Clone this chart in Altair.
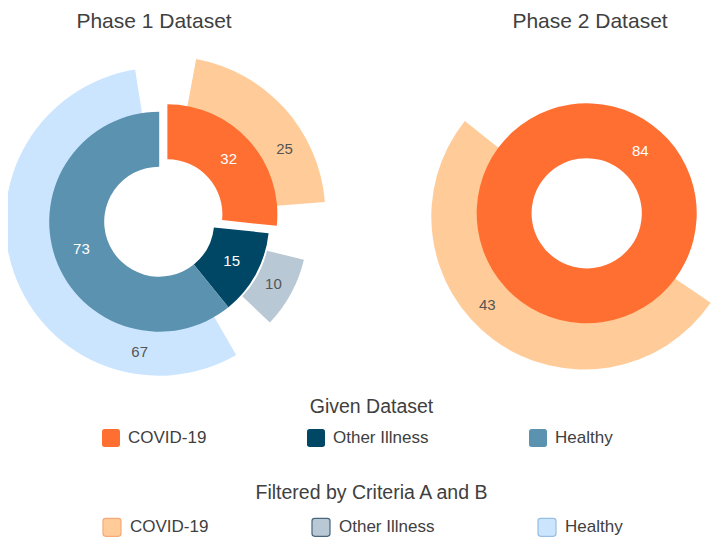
import math
import altair as alt
import pandas as pd

# ---------------- data ----------------
panels = ["Phase 1 Dataset", "Phase 2 Dataset"]
categories = ["COVID-19", "Other Illness", "Healthy"]
given_phase1 = [32, 15, 73]
filtered_phase1 = [25, 10, 67]
given_phase2 = [84]
filtered_phase2 = [43]
legend_titles = ["Given Dataset", "Filtered by Criteria A and B"]

# ---------------- styles / layout ----------------
given_colors = ["#FF6F31", "#004766", "#5A92AF"]
filtered_colors = ["#FFCC99", "#B9C8D5", "#CCE5FF"]
filtered_strokes = ["#F7A877", "#48667C", "#97BEE3"]
FONT = "Liberation Sans"
TEXT_COLOR = "#404040"

center = {"Phase 1 Dataset": (151.2, 213.7), "Phase 2 Dataset": (578.7, 205.3)}
title_x = {"Phase 1 Dataset": 146, "Phase 2 Dataset": 582}
start_turn = {"Phase 1 Dataset": 0.0, "Phase 2 Dataset": 36.5 / 360}
explode_inner = {("Phase 1 Dataset", "COVID-19"): 11}
explode_outer = {("Phase 1 Dataset", "COVID-19"): 11,
                 ("Phase 1 Dataset", "Other Illness"): 12,
                 ("Phase 2 Dataset", "COVID-19"): 4}
outer_radius = {("Phase 1 Dataset", "COVID-19"): 158,
                ("Phase 1 Dataset", "Other Illness"): 138,
                ("Phase 1 Dataset", "Healthy"): 154,
                ("Phase 2 Dataset", "COVID-19"): 153}
# angular nudges of value labels (in turns), to sit where the reference puts them
label_nudge = {("outer", "Phase 1 Dataset", "COVID-19"): 13 / 360,
               ("outer", "Phase 1 Dataset", "Healthy"): -62 / 360,
               ("outer", "Phase 2 Dataset", "COVID-19"): 11 / 360,
               ("inner", "Phase 2 Dataset", "COVID-19"): 184 / 360}
label_radius_outer = {"Other Illness": 118}
R_HOLE, R_RING, R_OUTER_IN = 55, 110, 100
legend_y = {"Given Dataset": 421, "Filtered by Criteria A and B": 509}
legend_title_y = {"Given Dataset": 404.7, "Filtered by Criteria A and B": 491}


def polar(px, py, r, turn):
    return px + r * math.sin(2 * math.pi * turn), py - r * math.cos(2 * math.pi * turn)


# ---------------- build tables ----------------
inner_rows, outer_rows = [], []
for panel, given, filtered in [(panels[0], given_phase1, filtered_phase1),
                               (panels[1], given_phase2, filtered_phase2)]:
    total = sum(given)
    cum = 0
    cx, cy = center[panel]
    for cat, g, f in zip(categories, given, filtered):
        t0 = start_turn[panel] + cum / total
        t1 = t0 + g / total
        cum += g
        mid = (t0 + t1) / 2
        px, py = polar(cx, cy, explode_inner.get((panel, cat), 0), mid)
        lx, ly = polar(px, py, (R_HOLE + R_RING) / 2,
                       mid + label_nudge.get(("inner", panel, cat), 0))
        inner_rows.append(dict(panel=panel, category=cat, value=g, t0=t0, t1=t1,
                               px=px, py=py, lx=lx, ly=ly))
        half = f / total / 2
        ox, oy = polar(cx, cy, explode_outer.get((panel, cat), 0), mid)
        ro = outer_radius[(panel, cat)]
        olx, oly = polar(ox, oy, label_radius_outer.get(cat, (R_RING + ro) / 2),
                         mid + label_nudge.get(("outer", panel, cat), 0))
        outer_rows.append(dict(panel=panel, category=cat, value=f,
                               t0=mid - half, t1=mid + half,
                               px=ox, py=oy, r_out=ro, r_in=R_OUTER_IN,
                               lx=olx, ly=oly))

inner_df = pd.DataFrame(inner_rows)
outer_df = pd.DataFrame(outer_rows)
title_df = pd.DataFrame({"title": panels, "tx": [title_x[p] for p in panels]})
ltitle_df = pd.DataFrame({"title": legend_titles, "ty": [legend_title_y[t] for t in legend_titles]})

theta_scale = alt.Scale(domain=[0, 1], range=[0, 2 * math.pi])
ROUNDED = ("M -1 -0.7 Q -1 -1 -0.7 -1 L 0.7 -1 Q 1 -1 1 -0.7 L 1 0.7 "
           "Q 1 1 0.7 1 L -0.7 1 Q -1 1 -1 0.7 Z")


def make_legend(title, stroke_w):
    return alt.Legend(title=None, orient="none", legendX=94, legendY=legend_y[title],
                      direction="horizontal", columns=3, columnPadding=100,
                      symbolType=ROUNDED, symbolSize=324, symbolStrokeWidth=stroke_w,
                      labelFont=FONT, labelFontSize=17, labelColor=TEXT_COLOR,
                      labelOffset=8, labelLimit=300)


outer = alt.Chart(outer_df).mark_arc(strokeWidth=0).encode(
    x=alt.X("px:Q", scale=None, axis=None),
    y=alt.Y("py:Q", scale=None, axis=None),
    theta=alt.Theta("t0:Q", scale=theta_scale),
    theta2="t1:Q",
    radius=alt.Radius("r_out:Q", scale=None),
    radius2="r_in:Q",
    color=alt.Color("category:N", scale=alt.Scale(domain=categories, range=filtered_colors),
                    legend=make_legend("Filtered by Criteria A and B", 1.2)),
    stroke=alt.Stroke("category:N", scale=alt.Scale(domain=categories, range=filtered_strokes),
                      legend=make_legend("Filtered by Criteria A and B", 1.2)),
)

inner = alt.Chart(inner_df).mark_arc(radius=R_RING, radius2=R_HOLE, strokeWidth=0).encode(
    x=alt.X("px:Q", scale=None, axis=None),
    y=alt.Y("py:Q", scale=None, axis=None),
    theta=alt.Theta("t0:Q", scale=theta_scale),
    theta2="t1:Q",
    color=alt.Color("category:N", scale=alt.Scale(domain=categories, range=given_colors),
                    legend=make_legend("Given Dataset", 0)),
)

inner_labels = alt.Chart(inner_df).mark_text(
    font=FONT, fontSize=15, color="white", align="center", baseline="middle"
).encode(x=alt.X("lx:Q", scale=None, axis=None), y=alt.Y("ly:Q", scale=None, axis=None),
         text="value:Q")

outer_labels = alt.Chart(outer_df).mark_text(
    font=FONT, fontSize=15, color="#555555", align="center", baseline="middle"
).encode(x=alt.X("lx:Q", scale=None, axis=None), y=alt.Y("ly:Q", scale=None, axis=None),
         text="value:Q")

titles = alt.Chart(title_df).mark_text(
    font=FONT, fontSize=21, color=TEXT_COLOR, align="center", baseline="alphabetic"
).encode(x=alt.X("tx:Q", scale=None, axis=None), y=alt.value(19.5), text="title:N")

legend_title_marks = alt.Chart(ltitle_df).mark_text(
    font=FONT, fontSize=19.5, color=TEXT_COLOR, align="center", baseline="alphabetic"
).encode(x=alt.value(363.5), y=alt.Y("ty:Q", scale=None, axis=None), text="title:N")

chart = alt.layer(outer, inner, inner_labels, outer_labels, titles, legend_title_marks).resolve_scale(
    color="independent", stroke="independent"
).properties(
    width=710, height=529, padding=0, autosize=alt.AutoSizeParams(type="none")
).configure_view(stroke=None)

chart.save("out.html", embed_options={"renderer": "svg", "actions": False})
